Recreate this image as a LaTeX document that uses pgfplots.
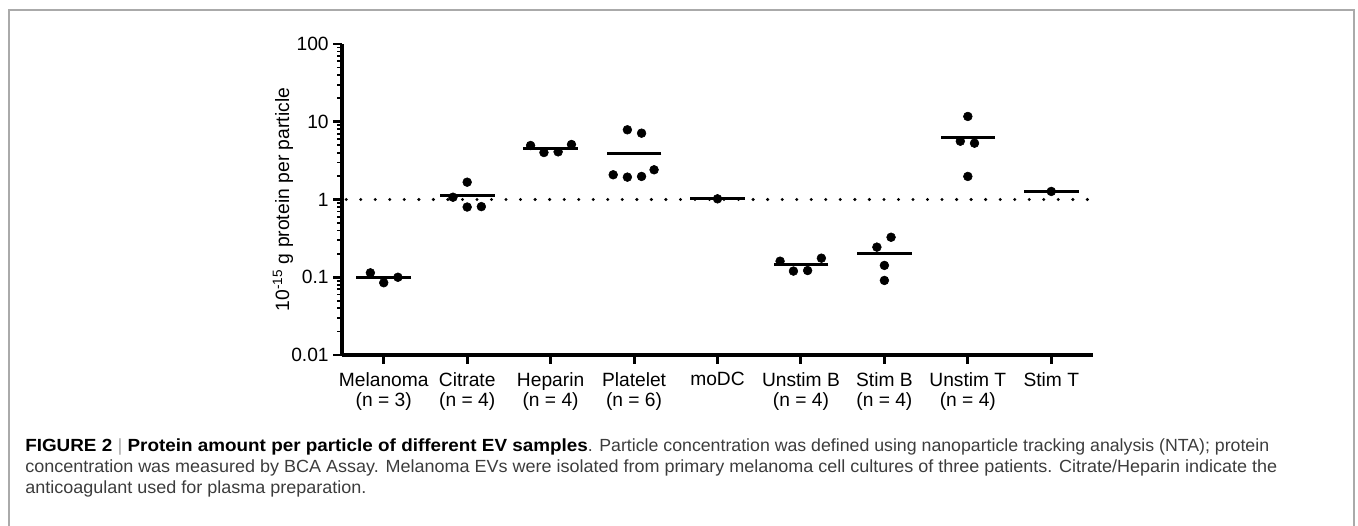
\documentclass[border=0pt]{standalone}
\usepackage{pgfplots}
\pgfplotsset{compat=1.18}
\usepackage{fontspec}
\setmainfont{Liberation Sans}
\usepackage{graphicx}

\definecolor{frame}{RGB}{170,170,170}
\definecolor{captxt}{RGB}{60,60,60}

% squeeze one caption line to a given width
\newlength\capw
\newlength\capwb
\newcommand\capline[2]{\settowidth\capw{#2}\pgfmathsetmacro\capsx{#1/\capw}\xdef\capsxlast{\capsx}\scalebox{\capsx}[1]{#2}}
% first line: bold head set a little wider than the rest
\newcommand\caplineone[3]{\settowidth\capwb{#2}\settowidth\capw{#3}%
  \pgfmathsetmacro\capsx{#1/(1.064*\capwb+\capw)}\pgfmathsetmacro\capsb{1.064*\capsx}%
  \scalebox{\capsb}[1]{#2}\scalebox{\capsx}[1]{#3}}

\begin{document}
\begin{tikzpicture}
\useasboundingbox (0,0) rectangle (1018.5pt,393.75pt);
\draw[frame, line width=1.1pt] (6.75pt,-2pt) -- (6.75pt,386.25pt) -- (1015.5pt,386.25pt) -- (1015.5pt,-2pt);

\begin{axis}[
    at={(256.5pt,127.5pt)}, anchor=south west,
    scale only axis, width=563.25pt, height=233.25pt,
    ymode=log,
    xmin=-0.5, xmax=8.5,
    ymin=0.01, ymax=100,
    axis lines=left,
    axis line style={-, line width=2.4pt},
    tick align=outside,
    major tick length=6.5pt, minor tick length=3.5pt,
    major tick style={black, line width=2.2pt},
    minor tick style={black, line width=1.3pt},
    xtick={0,1,2,3,4,5,6,7,8},
    xticklabels={{Melanoma\\(n = 3)},{Citrate\\(n = 4)},{Heparin\\(n = 4)},{Platelet\\(n = 6)},
        {moDC},{Unstim B\\(n = 4)},{Stim B\\(n = 4)},{Unstim T\\(n = 4)},{Stim T}},
    ytick={0.01,0.1,1,10,100},
    yticklabels={0.01,0.1,1,10,100},
    minor ytick={0.02,0.03,0.04,0.05,0.06,0.07,0.08,0.09,
        0.2,0.3,0.4,0.5,0.6,0.7,0.8,0.9,
        2,3,4,5,6,7,8,9,
        20,30,40,50,60,70,80,90},
    xticklabel style={align=center, yshift=-3pt, font=\fontsize{14.4pt}{15.5pt}\selectfont},
    yticklabel style={font=\fontsize{14.4pt}{15.5pt}\selectfont},
    ylabel={10\textsuperscript{-15} g protein per particle},
    ylabel style={at={(axis description cs:-0.0786,0.5)}, anchor=center,
        font=\fontsize{14.5pt}{16pt}\selectfont},
    clip=false,
]

% reference line at 1
\addplot[black, line width=2.5pt, line cap=round, dash pattern=on 0pt off 10.9pt]
    coordinates {(-0.45,1) (8.44,1)};

% single samples
\addplot[only marks, mark=*, mark size=3.3pt, black] coordinates {
    (-0.16,0.114) (0,0.085) (0.17,0.100)
    (0.83,1.07) (1,1.67) (1,0.80) (1.17,0.81)
    (1.76,4.95) (1.92,4.02) (2.09,4.10) (2.25,5.10)
    (2.92,7.88) (3.09,7.13) (2.75,2.08) (2.92,1.94) (3.09,1.98) (3.24,2.41)
    (4,1.02)
    (4.75,0.161) (4.91,0.120) (5.08,0.122) (5.245,0.176)
    (5.91,0.244) (6.08,0.327) (6,0.142) (6,0.091)
    (7,11.7) (6.91,5.62) (7.08,5.30) (7,1.98)
    (8,1.27)
};

% group means
\addplot[only marks, mark=-, mark size=20.5pt, mark options={line width=2.5pt}, black] coordinates {
    (0,0.100) (1,1.13) (2,4.57) (3,3.91) (4,1.02)
    (5,0.145) (6,0.204) (7,6.22) (8,1.27)
};
\end{axis}

\begin{scope}[every node/.style={anchor=base west, inner sep=0pt, text=captxt,
        font=\fontsize{13.2pt}{15pt}\selectfont}]
\node at (18.75pt,55.5pt) {\caplineone{933pt}{{\color{black}\textbf{FIGURE 2}} {\color{frame}|} {\color{black}\textbf{Protein amount per particle of different EV samples}}}{. Particle concentration was defined using nanoparticle tracking analysis (NTA); protein}};
\node at (18.75pt,39.75pt) {\capline{939pt}{concentration was measured by BCA Assay. Melanoma EVs were isolated from primary melanoma cell cultures of three patients. Citrate/Heparin indicate the}};
\node at (18.75pt,24pt) {\scalebox{\capsxlast}[1]{anticoagulant used for plasma preparation.}};
\end{scope}
\end{tikzpicture}
\end{document}
